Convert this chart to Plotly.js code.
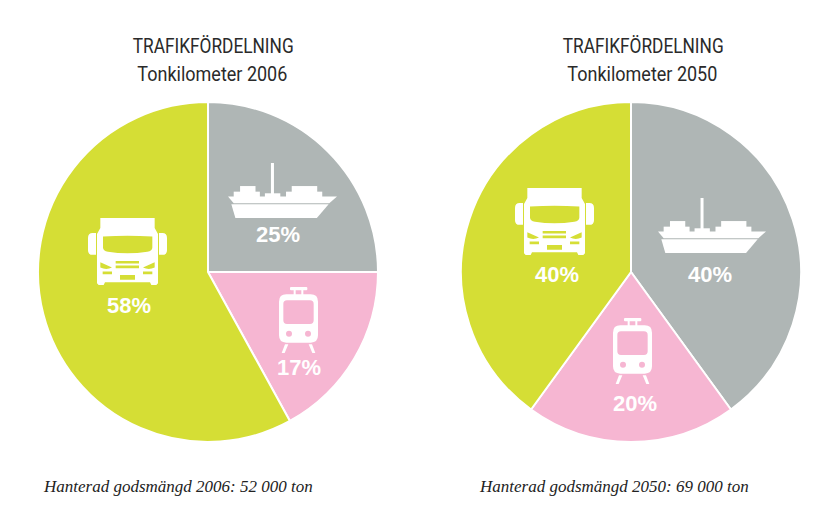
<!DOCTYPE html>
<html>
<head>
<meta charset="utf-8">
<script src="https://cdn.plot.ly/plotly-3.0.1.min.js"></script>
<style>html,body{margin:0;padding:0;background:#fff}#c{width:827px;height:514px}</style>
</head>
<body>
<div id="c"></div>
<script>
var categories = ['Sjöfart', 'Järnväg', 'Väg'];
var values2006 = [25, 17, 58];
var values2050 = [40, 20, 40];
var sliceColors = ['#AFB6B5', '#F6B6D2', '#D5DE35'];
var titleLine1 = 'TRAFIKFÖRDELNING';
var title2006 = 'Tonkilometer 2006';
var title2050 = 'Tonkilometer 2050';
var foot2006 = 'Hanterad godsmängd 2006: 52 000 ton';
var foot2050 = 'Hanterad godsmängd 2050: 69 000 ton';

var W = 827, H = 514;
function px(x){return x/W;}
function py(y){return 1-y/H;}

function svgUri(w,h,body){
  var s='<svg xmlns="http://www.w3.org/2000/svg" viewBox="0 0 '+w+' '+h+'" width="'+w+'" height="'+h+'"><g fill="#fff" fill-rule="evenodd">'+body+'</g></svg>';
  return 'data:image/svg+xml;base64,'+btoa(s);
}
var truck = svgUri(237,200,
 '<path d="M24 45H14Q0 45 0 60V96Q0 110 14 110H24ZM213 45H223Q237 45 237 60V96Q237 110 223 110H213Z"/>'+
 '<path d="M37 0H200V30L210 48V195L205 200H190L186 192H51L47 200H32L27 195V48L37 30ZM45 55V88Q45 98 60 101Q118 110 178 101Q193 98 193 88V55Q118 51 45 55ZM83 128V136H153V128ZM83 142V150H153V142ZM37 132V148Q55 156 72 148ZM200 132V148Q182 156 165 148ZM44 160V168H72V160ZM165 160V168H193V160ZM96 170V184H141V170Z"/>');
var ship = svgUri(325,167,
 '<rect x="128" y="0" width="9" height="95"/>'+
 '<rect x="36" y="70" width="46" height="20"/><rect x="17" y="87" width="78" height="18"/>'+
 '<rect x="110" y="92" width="46" height="13"/>'+
 '<rect x="190" y="70" width="76" height="20"/><rect x="173" y="87" width="108" height="18"/>'+
 '<path d="M0 102H325L302 122H17Z"/><path d="M10 125H300L265 167H22Z"/>');
var tram = svgUri(117,198,
 '<rect x="33" y="0" width="52" height="10" rx="3"/><rect x="44" y="8" width="6" height="20"/><rect x="67" y="8" width="6" height="20"/>'+
 '<path d="M22 22H95Q117 22 117 44V145Q117 167 95 167H22Q0 167 0 145V44Q0 22 22 22ZM24 40Q13 40 13 51V100Q13 111 24 111H93Q104 111 104 100V51Q104 40 93 40ZM30 131A9 9 0 1 0 30.01 149A9 9 0 1 0 30 131ZM87 131A9 9 0 1 0 87.01 149A9 9 0 1 0 87 131Z"/>'+
 '<path d="M18 172H28L17 198H8ZM89 172H99L109 198H100Z"/>');

function icon(src,x0,y0,x1,y1){
  return {source:src,xref:'paper',yref:'paper',x:px(x0),y:py(y0),sizex:(x1-x0)/W,sizey:(y1-y0)/H,
          xanchor:'left',yanchor:'top',sizing:'stretch',layer:'above'};
}
function note(text,x,y,size,family,color,weight){
  return {text:text,xref:'paper',yref:'paper',x:px(x),y:py(y),xanchor:'center',yanchor:'middle',
          showarrow:false,font:{size:size,family:family,color:color,weight:weight||400}};
}
function pie(vals,x0,x1){
  return {type:'pie',labels:categories,values:vals,sort:false,direction:'clockwise',rotation:0,
          textinfo:'none',hoverinfo:'label+percent',showlegend:false,
          marker:{colors:sliceColors,line:{color:'#fff',width:2}},
          domain:{x:[px(x0),px(x1)],y:[py(442),py(102)]}};
}
var head = 'Roboto,"Liberation Sans",sans-serif';
var serif = '"Liberation Serif",serif';
var pct = '"Liberation Sans",sans-serif';

var layout = {
  width:W,height:H,margin:{l:0,r:0,t:0,b:0},paper_bgcolor:'#fff',showlegend:false,
  images:[
    icon(truck,88,218,167,285),icon(ship,228,163,337,218),icon(tram,279,287,318,353),
    icon(truck,515,188,594,255),icon(ship,658,198,766,253),icon(tram,613,318,652,384)
  ],
  annotations:[
    note(titleLine1,212.5,46,20,head,'#2a2a2a',400),note(title2006,212,74,20,head,'#2a2a2a',400),
    note(titleLine1,642.5,46,20,head,'#2a2a2a',400),note(title2050,642,74,20,head,'#2a2a2a',400),
    note('<i>'+foot2006+'</i>',178,486,17,serif,'#222'),note('<i>'+foot2050+'</i>',614,486,17,serif,'#222'),
    note('<b>'+values2006[2]+'%</b>',129,305,22,pct,'#fff'),
    note('<b>'+values2006[0]+'%</b>',278,235,22,pct,'#fff'),
    note('<b>'+values2006[1]+'%</b>',299,367,22,pct,'#fff'),
    note('<b>'+values2050[2]+'%</b>',557,274,22,pct,'#fff'),
    note('<b>'+values2050[0]+'%</b>',710,274,22,pct,'#fff'),
    note('<b>'+values2050[1]+'%</b>',635,403,22,pct,'#fff')
  ]
};
Plotly.newPlot('c',[pie(values2006,38,378),pie(values2050,461,801)],layout,{displayModeBar:false,staticPlot:true}).then(function(){
  var lens={};lens[titleLine1]=161;lens[title2006]=150;lens[title2050]=150;
  document.querySelectorAll('#c .annotation-text').forEach(function(t){
    var n=lens[t.textContent];
    if(n){t.setAttribute('textLength',n);t.setAttribute('lengthAdjust','spacingAndGlyphs');}
  });
});
</script>
</body>
</html>
